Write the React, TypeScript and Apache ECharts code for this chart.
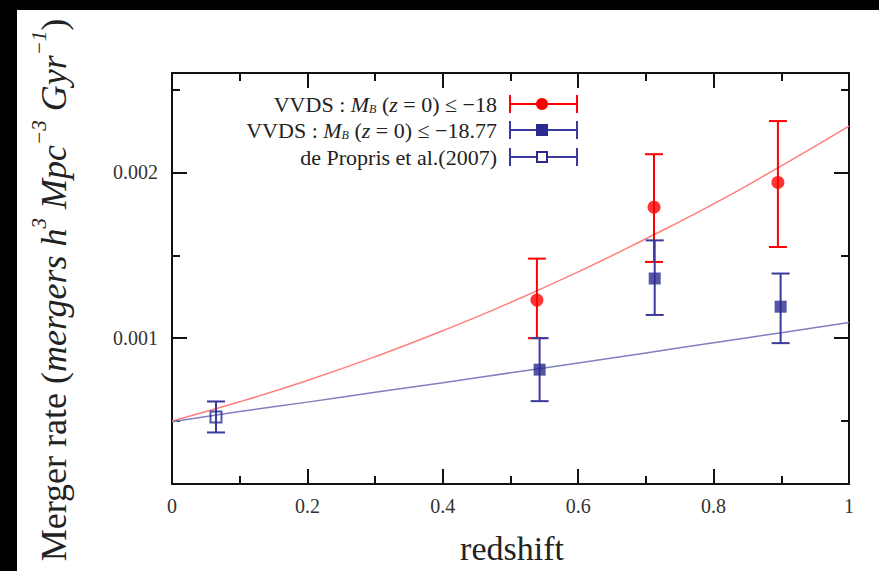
import React, { useEffect, useRef } from "react";
import * as echarts from "echarts";

// VVDS M_B(z=0) <= -18 (red circles)
const redZ = [0.539, 0.712, 0.895];
const redRate = [0.00123, 0.00179, 0.00194];
const redLow = [0.001, 0.00146, 0.00155];
const redHigh = [0.00148, 0.00211, 0.00231];

// VVDS M_B(z=0) <= -18.77 (blue filled squares)
const blueZ = [0.543, 0.713, 0.899];
const blueRate = [0.00081, 0.00136, 0.00119];
const blueLow = [0.00062, 0.00114, 0.00097];
const blueHigh = [0.001, 0.00159, 0.00139];

// de Propris et al. (2007) (blue open square)
const propZ = [0.065];
const propRate = [0.000524];
const propLow = [0.000431];
const propHigh = [0.000618];

// fitted curves
const fitZ = [0, 0.1, 0.2, 0.3, 0.4, 0.5, 0.6, 0.7, 0.8, 0.9, 1.0];
const redFit = [0.0005, 0.000616, 0.000745, 0.000888, 0.001045, 0.001215, 0.0014, 0.0016, 0.00181, 0.00204, 0.00228];
const blueFit = [0.000495, 0.000557, 0.000614, 0.000673, 0.000731, 0.000791, 0.00085, 0.000911, 0.000972, 0.001033, 0.001094];

// axis ticks
const yMajor = [0.001, 0.002];
const yMinor = [0.0005, 0.0015, 0.0025];
const legendLabels = [
  "VVDS : {i|M}{sub|B} ({i|z} = 0) ≤ −18",
  "VVDS : {i|M}{sub|B} ({i|z} = 0) ≤ −18.77",
  "de Propris et al.(2007)",
];

const RED = "#ff0000";
const BLUE = "#2b2b8e";
const BLUE_BAR = "#3a3a9e";
const SERIF = "'Liberation Serif', 'Times New Roman', serif";

const Y_MIN = 0.00012;
const Y_MAX = 0.0026;

function errorItem(color: string) {
  return (params: any, api: any) => {
    const x = api.value(0);
    const lo = api.coord([x, api.value(1)]);
    const hi = api.coord([x, api.value(2)]);
    const h = 9;
    const style = { stroke: color, lineWidth: 2 };
    return {
      type: "group",
      children: [
        { type: "line", shape: { x1: lo[0], y1: lo[1], x2: hi[0], y2: hi[1] }, style },
        { type: "line", shape: { x1: lo[0] - h, y1: lo[1], x2: lo[0] + h, y2: lo[1] }, style },
        { type: "line", shape: { x1: hi[0] - h, y1: hi[1], x2: hi[0] + h, y2: hi[1] }, style },
      ],
    };
  };
}

function yAxisDef(position: "left" | "right", values: number[], len: number, showLine: boolean, showLabel: boolean) {
  return {
    type: "value",
    position,
    min: Y_MIN,
    max: Y_MAX,
    axisLine: { show: showLine, onZero: false, lineStyle: { color: "#111", width: 2 } },
    axisTick: { show: true, inside: true, length: len, customValues: values, lineStyle: { color: "#111", width: 2 } },
    axisLabel: {
      show: showLabel,
      customValues: values,
      margin: 14,
      color: "#333",
      fontFamily: SERIF,
      fontSize: 20,
      formatter: (v: number) => v.toFixed(3),
    },
    splitLine: { show: false },
  };
}

function xAxisDef(position: "top" | "bottom", showLabel: boolean) {
  return {
    type: "value",
    position,
    min: 0,
    max: 1,
    interval: 0.2,
    axisLine: { show: true, onZero: false, lineStyle: { color: "#111", width: 2 } },
    axisTick: { show: true, inside: true, length: 15, lineStyle: { color: "#111", width: 2 } },
    minorTick: { show: true, splitNumber: 2, length: 8, lineStyle: { color: "#111", width: 2 } },
    axisLabel: {
      show: showLabel,
      margin: 12,
      color: "#333",
      fontFamily: SERIF,
      fontSize: 20,
      formatter: (v: number) => String(Math.round(v * 10) / 10),
    },
    splitLine: { show: false },
    minorSplitLine: { show: false },
  };
}

export default function App() {
  const ref = useRef<HTMLDivElement>(null);

  useEffect(() => {
    if (!ref.current) return;
    const chart = echarts.init(ref.current, null, { renderer: "svg" });

    const legendX0 = 510;
    const legendX1 = 577;
    const legendMid = 542;
    const rowsY = [104, 130, 157];
    const legendColors = [RED, BLUE_BAR, BLUE_BAR];

    const legendGraphics: any[] = [];
    legendLabels.forEach((t, i) => {
      const y = rowsY[i];
      const c = legendColors[i];
      legendGraphics.push({
        type: "text",
        x: 497,
        y,
        style: {
          text: t,
          align: "right",
          verticalAlign: "middle",
          fontFamily: SERIF,
          fontSize: 22,
          fill: "#222",
          rich: {
            i: { fontStyle: "italic", fontFamily: SERIF, fontSize: 22, fill: "#222" },
            sub: { fontStyle: "italic", fontFamily: SERIF, fontSize: 12, fill: "#222", padding: [10, 0, 0, 0] },
          },
        },
      });
      const st = { stroke: c, lineWidth: 2 };
      legendGraphics.push({ type: "line", shape: { x1: legendX0, y1: y, x2: legendX1, y2: y }, style: st });
      legendGraphics.push({ type: "line", shape: { x1: legendX0, y1: y - 9, x2: legendX0, y2: y + 9 }, style: st });
      legendGraphics.push({ type: "line", shape: { x1: legendX1, y1: y - 9, x2: legendX1, y2: y + 9 }, style: st });
      if (i === 0) {
        legendGraphics.push({ type: "circle", shape: { cx: legendMid, cy: y, r: 6 }, style: { fill: RED } });
      } else if (i === 1) {
        legendGraphics.push({ type: "rect", shape: { x: legendMid - 6, y: y - 6, width: 12, height: 12 }, style: { fill: BLUE } });
      } else {
        legendGraphics.push({
          type: "rect",
          shape: { x: legendMid - 5, y: y - 5, width: 10, height: 10 },
          style: { fill: "#fff", stroke: BLUE, lineWidth: 2 },
        });
      }
    });

    const titleMain = { fontFamily: SERIF, fontSize: 36, fill: "#222", lineHeight: 43, verticalAlign: "bottom" };
    const titleIt = { ...titleMain, fontStyle: "italic" };
    const titleSup = { fontFamily: SERIF, fontSize: 21, fill: "#222", fontStyle: "italic", lineHeight: 23, verticalAlign: "top" };

    const option: any = {
      animation: false,
      backgroundColor: "#ffffff",
      grid: { left: 172, right: 30, top: 73, bottom: 87, containLabel: false },
      xAxis: [xAxisDef("bottom", true), xAxisDef("top", false)],
      yAxis: [
        yAxisDef("left", yMajor, 15, true, true),
        yAxisDef("left", yMinor, 8, false, false),
        yAxisDef("right", yMajor, 15, true, false),
        yAxisDef("right", yMinor, 8, false, false),
      ],
      graphic: [
        { type: "rect", z: 100, shape: { x: 0, y: 0, width: 17, height: 571 }, style: { fill: "#000" } },
        { type: "rect", z: 100, shape: { x: 0, y: 0, width: 879, height: 10 }, style: { fill: "#000" } },
        {
          type: "text",
          x: 50,
          y: 290,
          rotation: Math.PI / 2,
          style: {
            text: "{a|Merger rate (}{b|mergers h}{s|3}{b| Mpc}{s|−3}{b| Gyr}{s|−1}{a|)}",
            align: "center",
            verticalAlign: "middle",
            rich: { a: titleMain, b: titleIt, s: titleSup },
          },
        },
        {
          type: "text",
          x: 512,
          y: 548,
          style: {
            text: "redshift",
            align: "center",
            verticalAlign: "middle",
            fontFamily: SERIF,
            fontSize: 34,
            fill: "#222",
          },
        },
        ...legendGraphics,
      ],
      series: [
        {
          type: "line",
          name: "fit red",
          data: fitZ.map((z, i) => [z, redFit[i]]),
          smooth: true,
          showSymbol: false,
          lineStyle: { color: "#ff7f7f", width: 1.5 },
          z: 1,
        },
        {
          type: "line",
          name: "fit blue",
          data: fitZ.map((z, i) => [z, blueFit[i]]),
          smooth: true,
          showSymbol: false,
          lineStyle: { color: "#7f80bd", width: 1.5 },
          z: 1,
        },
        {
          type: "custom",
          name: "red err",
          renderItem: errorItem(RED),
          data: redZ.map((z, i) => [z, redLow[i], redHigh[i]]),
          encode: { x: 0, y: [1, 2] },
          z: 2,
        },
        {
          type: "custom",
          name: "blue err",
          renderItem: errorItem(BLUE_BAR),
          data: blueZ.map((z, i) => [z, blueLow[i], blueHigh[i]]),
          encode: { x: 0, y: [1, 2] },
          z: 2,
        },
        {
          type: "custom",
          name: "prop err",
          renderItem: errorItem(BLUE_BAR),
          data: propZ.map((z, i) => [z, propLow[i], propHigh[i]]),
          encode: { x: 0, y: [1, 2] },
          z: 2,
        },
        {
          type: "scatter",
          name: "VVDS -18",
          data: redZ.map((z, i) => [z, redRate[i]]),
          symbol: "circle",
          symbolSize: 13,
          itemStyle: { color: RED },
          z: 3,
        },
        {
          type: "scatter",
          name: "VVDS -18.77",
          data: blueZ.map((z, i) => [z, blueRate[i]]),
          symbol: "rect",
          symbolSize: 12,
          itemStyle: { color: BLUE },
          z: 3,
        },
        {
          type: "scatter",
          name: "de Propris",
          data: propZ.map((z, i) => [z, propRate[i]]),
          symbol: "rect",
          symbolSize: 11,
          itemStyle: { color: "rgba(0,0,0,0)", borderColor: BLUE, borderWidth: 2 },
          z: 3,
        },
      ],
    };

    chart.setOption(option);
    return () => chart.dispose();
  }, []);

  return (
    <div
      ref={ref}
      style={{ position: "fixed", left: 0, top: 0, width: 879, height: 571, background: "#fff" }}
    />
  );
}
